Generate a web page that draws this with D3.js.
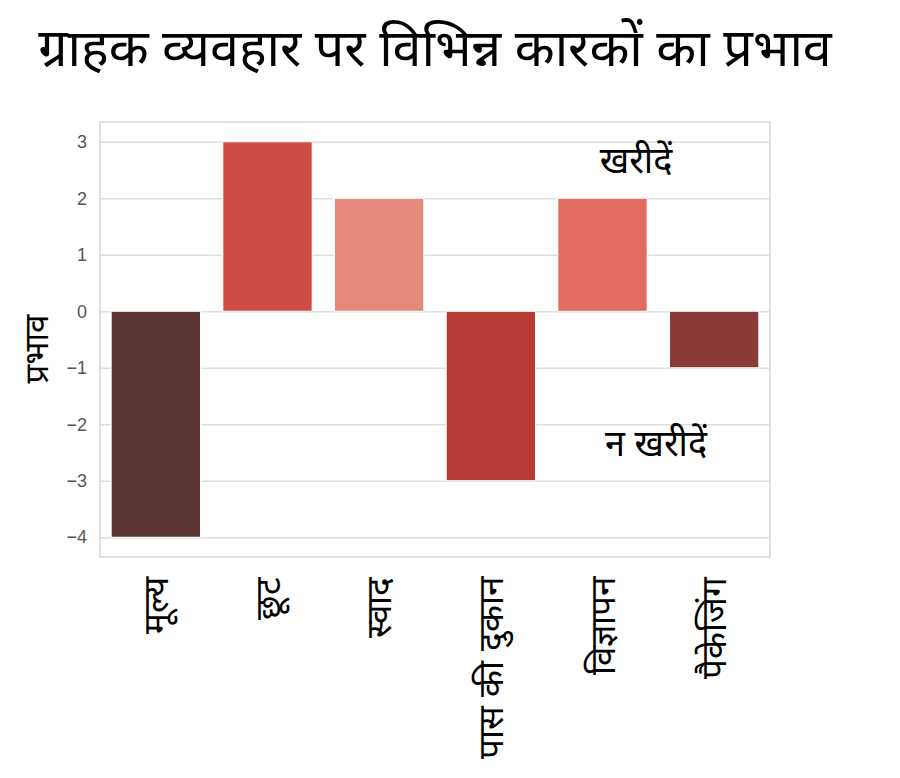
<!DOCTYPE html>
<html>
<head>
<meta charset="utf-8">
<script src="https://cdn.jsdelivr.net/npm/d3@7"></script>
<style>
  body { margin: 0; background: #fff; }
  .tick text { font-family: "Liberation Sans", Arial, sans-serif; }
</style>
</head>
<body>
<svg id="chart" width="900" height="778"></svg>
<script>
const categories = ["मूल्य", "छूट", "स्वाद", "पास की दुकान", "विज्ञापन", "पैकेजिंग"];
const values = [-4, 3, 2, -3, 2, -1];
const colors = ["#5c3534", "#cf4d44", "#e5897a", "#b83d37", "#e06b5f", "#8a3a37"];
const yTicks = [3, 2, 1, 0, -1, -2, -3, -4];
const title = "ग्राहक व्यवहार पर विभिन्न कारकों का प्रभाव";
const yLabel = "प्रभाव";
const notes = [{ text: "खरीदें", x: 4.3, y: 2.61 }, { text: "न खरीदें", x: 4.48, y: -2.4 }];

const devFont = "'Noto Sans', 'Noto Sans Devanagari', Lohit, sans-serif";
const margin = { top: 122, right: 130, bottom: 221, left: 100 },
  w = 900 - margin.left - margin.right,
  h = 778 - margin.top - margin.bottom;

const svg = d3.select("#chart");
const g = svg.append("g").attr("transform", `translate(${margin.left}, ${margin.top})`);

const xscale = d3.scaleBand().domain(categories).range([0, w]).paddingInner(0.2).paddingOuter(0.1);
const xpos = d3.scaleLinear().domain([-0.5, categories.length - 0.5]).range([0, w]);
const yscale = d3.scaleLinear().domain([-4.35, 3.35]).range([h, 0]);

// grid
g.append("g").attr("class", "y_axis_g")
  .call(d3.axisLeft(yscale).tickValues(yTicks).tickSize(-w).tickPadding(13)
    .tickFormat(d => d < 0 ? "\u2212" + Math.abs(d) : d))
  .call(a => a.select(".domain").remove())
  .call(a => a.selectAll(".tick line").attr("stroke", "#dedede").attr("stroke-width", 1.5))
  .call(a => a.selectAll(".tick text").attr("fill", "#555").attr("font-size", 18));

g.append("rect").attr("x", 0).attr("y", 0).attr("width", w).attr("height", h)
  .attr("fill", "none").attr("stroke", "#d6d6d6").attr("stroke-width", 1.5);

g.selectAll(".bar").data(values).join("rect")
  .attr("class", "bar")
  .attr("x", (d, i) => xscale(categories[i]))
  .attr("width", xscale.bandwidth())
  .attr("y", d => yscale(Math.max(0, d)))
  .attr("height", d => Math.abs(yscale(d) - yscale(0)))
  .attr("fill", (d, i) => colors[i])
  .attr("stroke", "#fff").attr("stroke-width", 1);

// x labels
const xg = g.append("g").attr("transform", `translate(0, ${h})`)
  .call(d3.axisBottom(xscale).tickSize(0).tickPadding(0));
xg.select(".domain").remove();
xg.selectAll(".tick text")
  .attr("transform", "translate(0, 20) rotate(-90)")
  .attr("text-anchor", "end")
  .attr("dy", "0.35em")
  .attr("x", 0).attr("y", 0)
  .attr("font-family", devFont)
  .attr("font-size", 35)
  .attr("fill", "#000");

g.selectAll(".note").data(notes).join("text")
  .attr("class", "note")
  .attr("x", d => xpos(d.x))
  .attr("y", d => yscale(d.y))
  .attr("text-anchor", "middle")
  .attr("dominant-baseline", "middle")
  .attr("font-family", devFont)
  .attr("font-size", 36)
  .text(d => d.text);

const ly = 349;
svg.append("text")
  .attr("x", 39).attr("y", ly)
  .attr("transform", `rotate(-90, 39, ${ly})`)
  .attr("text-anchor", "middle")
  .attr("dominant-baseline", "middle")
  .attr("font-family", devFont)
  .attr("font-size", 33)
  .text(yLabel);

svg.append("text")
  .attr("x", 435).attr("y", 66)
  .attr("text-anchor", "middle")
  .attr("font-family", devFont)
  .attr("font-size", 52)
  .text(title);
</script>
</body>
</html>
